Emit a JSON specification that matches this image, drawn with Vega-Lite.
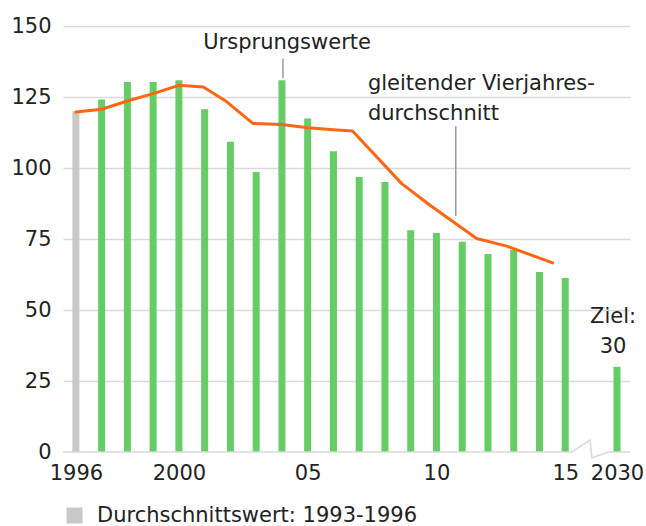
{
  "$schema": "https://vega.github.io/schema/vega-lite/v6.json",
  "width": 567,
  "height": 426,
  "autosize": {"type": "none"},
  "padding": {"left": 63, "top": 26, "right": 16, "bottom": 74},
  "background": "white",
  "config": {
    "view": {"stroke": null},
    "font": "DejaVu Sans",
    "axis": {"labelFont": "DejaVu Sans", "labelFontSize": 21, "labelColor": "#222222"},
    "text": {"font": "DejaVu Sans", "fontSize": 21, "fill": "#222222"}
  },
  "datasets": {
    "bars": [
      {"year": 1996, "value": 120, "kind": "Durchschnittswert: 1993-1996"},
      {"year": 1997, "value": 124.1, "kind": "Ursprungswerte"},
      {"year": 1998, "value": 130.3, "kind": "Ursprungswerte"},
      {"year": 1999, "value": 130.3, "kind": "Ursprungswerte"},
      {"year": 2000, "value": 130.9, "kind": "Ursprungswerte"},
      {"year": 2001, "value": 120.7, "kind": "Ursprungswerte"},
      {"year": 2002, "value": 109.2, "kind": "Ursprungswerte"},
      {"year": 2003, "value": 98.6, "kind": "Ursprungswerte"},
      {"year": 2004, "value": 130.9, "kind": "Ursprungswerte"},
      {"year": 2005, "value": 117.4, "kind": "Ursprungswerte"},
      {"year": 2006, "value": 105.9, "kind": "Ursprungswerte"},
      {"year": 2007, "value": 96.8, "kind": "Ursprungswerte"},
      {"year": 2008, "value": 95.1, "kind": "Ursprungswerte"},
      {"year": 2009, "value": 78.1, "kind": "Ursprungswerte"},
      {"year": 2010, "value": 77.1, "kind": "Ursprungswerte"},
      {"year": 2011, "value": 74.0, "kind": "Ursprungswerte"},
      {"year": 2012, "value": 69.7, "kind": "Ursprungswerte"},
      {"year": 2013, "value": 71.1, "kind": "Ursprungswerte"},
      {"year": 2014, "value": 63.4, "kind": "Ursprungswerte"},
      {"year": 2015, "value": 61.3, "kind": "Ursprungswerte"},
      {"year": 2030, "value": 30, "kind": "Ursprungswerte"}
    ],
    "avg": [
      {"year": 1996, "value": 119.7},
      {"year": 1997, "value": 120.7},
      {"year": 1998, "value": 123.6},
      {"year": 1999, "value": 126.2},
      {"year": 2000, "value": 129.1},
      {"year": 2000.95, "value": 128.5},
      {"year": 2001.86, "value": 123.3},
      {"year": 2002.87, "value": 115.7},
      {"year": 2004, "value": 115.3},
      {"year": 2005, "value": 114.2},
      {"year": 2006, "value": 113.5},
      {"year": 2006.74, "value": 113.0},
      {"year": 2008.65, "value": 94.5},
      {"year": 2009.75, "value": 86.9},
      {"year": 2011.56, "value": 75.2},
      {"year": 2012.73, "value": 72.5},
      {"year": 2014.51, "value": 66.6}
    ],
    "baseline": [
      {"order": 1, "year": 1995.5, "value": 0},
      {"order": 2, "year": 2015.26, "value": 0},
      {"order": 3, "year": 2015.96, "value": 4.2},
      {"order": 4, "year": 2017.04, "value": -2.1},
      {"order": 5, "year": 2029.65, "value": 0},
      {"order": 6, "year": 2030.5, "value": 0}
    ],
    "pointers": [
      {"year": 2004.04, "y1": 138.6, "y2": 131.6},
      {"year": 2010.75, "y1": 114.7, "y2": 83.1}
    ],
    "labelsCenter": [
      {"year": 2004.2, "value": 141.9, "text": "Ursprungswerte"},
      {"year": 2029.85, "value": 45.4, "text": "Ziel:"},
      {"year": 2029.85, "value": 34.8, "text": "30"}
    ],
    "labelsLeft": [
      {"year": 2007.34, "value": 127.4, "text": "gleitender Vierjahres-"},
      {"year": 2007.34, "value": 116.8, "text": "durchschnitt"}
    ]
  },
  "layer": [
    {
      "data": {"name": "bars"},
      "mark": {"type": "bar", "size": 7},
      "encoding": {
        "x": {
          "field": "year", "type": "quantitative",
          "scale": {"domain": [1995.5, 2016, 2029.5, 2030.5], "range": [0, 528, 541, 567], "nice": false, "zero": false, "padding": 0},
          "axis": {
            "title": null, "grid": false, "domain": false, "ticks": false,
            "values": [1996, 2000, 2005, 2010, 2015, 2030],
            "labelExpr": "datum.value == 2005 ? '05' : datum.value == 2010 ? '10' : datum.value == 2015 ? '15' : datum.value + ''",
            "labelPadding": 10, "labelFlush": false, "labelOverlap": false
          }
        },
        "y": {
          "field": "value", "type": "quantitative",
          "scale": {"domain": [0, 150], "nice": false, "padding": 0},
          "axis": {
            "title": null, "domain": false, "ticks": false,
            "values": [0, 25, 50, 75, 100, 125, 150],
            "grid": true, "gridColor": "#d9d9d9", "gridWidth": 1.5,
            "gridOpacity": {"condition": {"test": "datum.value === 0", "value": 0}, "value": 1},
            "labelPadding": 12
          }
        },
        "color": {
          "field": "kind", "type": "nominal",
          "scale": {"domain": ["Durchschnittswert: 1993-1996", "Ursprungswerte"], "range": ["#c9c9c9", "#66cc66"]},
          "legend": {
            "values": ["Durchschnittswert: 1993-1996"],
            "title": null, "orient": "none", "legendX": 1, "legendY": 479,
            "padding": 0, "symbolType": "square", "symbolSize": 256, "symbolStrokeWidth": 0,
            "labelFontSize": 21, "labelFont": "DejaVu Sans", "labelColor": "#222222", "labelOffset": 12, "labelLimit": 0
          }
        }
      }
    },
    {
      "data": {"name": "baseline"},
      "mark": {"type": "line", "color": "#d9d9d9", "strokeWidth": 1.5, "clip": false},
      "encoding": {
        "x": {"field": "year", "type": "quantitative"},
        "y": {"field": "value", "type": "quantitative"},
        "order": {"field": "order"}
      }
    },
    {
      "data": {"name": "avg"},
      "mark": {"type": "line", "color": "#ff6611", "strokeWidth": 3, "strokeJoin": "round", "strokeCap": "round"},
      "encoding": {
        "x": {"field": "year", "type": "quantitative"},
        "y": {"field": "value", "type": "quantitative"}
      }
    },
    {
      "data": {"name": "pointers"},
      "mark": {"type": "rule", "color": "#999999", "strokeWidth": 1.5},
      "encoding": {
        "x": {"field": "year", "type": "quantitative"},
        "y": {"field": "y1", "type": "quantitative"},
        "y2": {"field": "y2"}
      }
    },
    {
      "data": {"name": "labelsCenter"},
      "mark": {"type": "text", "baseline": "alphabetic", "align": "center"},
      "encoding": {
        "x": {"field": "year", "type": "quantitative"},
        "y": {"field": "value", "type": "quantitative"},
        "text": {"field": "text"}
      }
    },
    {
      "data": {"name": "labelsLeft"},
      "mark": {"type": "text", "baseline": "alphabetic", "align": "left"},
      "encoding": {
        "x": {"field": "year", "type": "quantitative"},
        "y": {"field": "value", "type": "quantitative"},
        "text": {"field": "text"}
      }
    }
  ]
}
